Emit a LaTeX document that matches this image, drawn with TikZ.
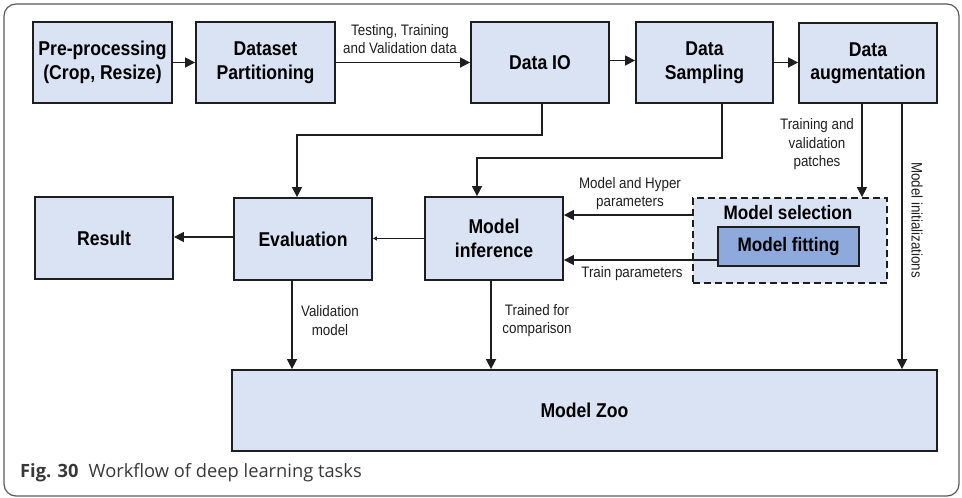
\documentclass[tikz,border=0pt]{standalone}
\usepackage{fontspec}
\setmainfont{Liberation Sans}[FakeStretch=0.88]
\newfontfamily\capfont{Open Sans}
\usetikzlibrary{arrows.meta}
\definecolor{boxfill}{RGB}{218,227,243}
\definecolor{fitfill}{RGB}{142,169,219}
\definecolor{edge}{RGB}{30,30,30}
\definecolor{framegray}{RGB}{90,90,90}
\begin{document}
\begin{tikzpicture}[x=1pt,y=-1pt,
  stagebox/.style={draw=edge, line width=1.8pt, fill=boxfill, align=center,
    font=\bfseries\fontsize{20}{23.5}\selectfont, inner sep=0pt},
  flow/.style={draw=edge, line width=1.5pt, -{Triangle[length=10pt,width=10pt]}},
  thinflow/.style={draw=edge, line width=1.5pt, -{Triangle[length=4pt,width=4pt]}},
  note/.style={font=\fontsize{15.2}{18.5}\selectfont, align=center, inner sep=0pt, text=black!88}]

\path[use as bounding box] (0,0) rectangle (962,498);
\draw[framegray, line width=1.2pt, rounded corners=12pt] (4,4) rectangle (959,496);

% top row of pipeline stages
\node[stagebox, minimum width=139pt, minimum height=81pt] (pre)  at (102.5,62.5) {Pre-processing\\(Crop, Resize)};
\node[stagebox, minimum width=139pt, minimum height=81pt] (part) at (265.5,62.5) {Dataset\\Partitioning};
\node[stagebox, minimum width=138pt, minimum height=81pt] (io)   at (540,62.5) {Data IO};
\node[stagebox, minimum width=137pt, minimum height=81pt] (samp) at (704.5,62.5) {Data\\Sampling};
\node[stagebox, minimum width=138pt, minimum height=80pt] (aug)  at (868,63) {Data\\augmentation};

% middle row
\node[stagebox, minimum width=138pt, minimum height=82pt] (result) at (104,238) {Result};
\node[stagebox, minimum width=138pt, minimum height=82pt] (eval)   at (303,239) {Evaluation};
\node[stagebox, minimum width=138pt, minimum height=83pt] (inf)    at (494,238.5) {Model\\inference};
\node[draw=edge, line width=1.8pt, dash pattern=on 7pt off 4pt, fill=boxfill,
      minimum width=194pt, minimum height=85pt, inner sep=0pt] (sel) at (790,240.5) {};
\node[font=\bfseries\fontsize{19.5}{22}\selectfont, inner sep=0pt] (seltitle) at (788,213) {Model selection};
\node[stagebox, fill=fitfill, font=\bfseries\fontsize{19.5}{22}\selectfont,
      minimum width=141pt, minimum height=39pt] (fit) at (788.5,246.5) {Model fitting};

% bottom store
\node[stagebox, minimum width=705pt, minimum height=81pt] (zoo) at (584.5,410.5) {Model Zoo};

% connectors along the top row
\draw[flow] (pre) -- (part);
\draw[flow] (part) -- (io);
\draw[flow] ([yshift=2pt]io.east) -- ([yshift=2pt]io.east -| samp.west);
\draw[flow] (samp.east) -- (samp.east -| aug.west);

% feeds from data IO and sampling
\draw[flow] ([xshift=2pt]io.south) -- ++(0,31) -| ([xshift=-6pt]eval.north);
\draw[flow] ([xshift=17.5pt]samp.south) -- ++(0,54) -| ([xshift=-17pt]inf.north);

% outputs of augmentation
\draw[flow] ([xshift=-6pt]aug.south) -- ([xshift=-6pt]aug.south |- sel.north);
\draw[flow] ([xshift=34pt]aug.south) -- ([xshift=34pt]aug.south |- zoo.north);

% model selection back to inference
\draw[flow] ([yshift=25.5pt]sel.west) -- ([yshift=25.5pt]sel.west -| inf.east);
\draw[flow] ([yshift=-13.5pt]fit.west) -- ([yshift=-13.5pt]fit.west -| inf.east);

% middle row leftwards
\draw[thinflow] (inf.west) -- (inf.west -| eval.east);
\draw[flow] ([yshift=2pt]eval.west) -- ([yshift=2pt]eval.west -| result.east);

% down to the model zoo
\draw[flow] ([xshift=-11pt]eval.south) -- ([xshift=-11pt]eval.south |- zoo.north);
\draw[flow] ([xshift=-3pt]inf.south) -- ([xshift=-3pt]inf.south |- zoo.north);

% connector labels
\node[note] (l1) at (400,39) {Testing, Training\\and Validation data};
\node[note] (l2) at (817,144.5) {Training and\\validation\\patches};
\node[note, rotate=-90] (l3) at (917,220) {Model initializations};
\node[note] (l4) at (630,193.5) {Model and Hyper\\parameters};
\node[note] (l5) at (632,273.5) {Train parameters};
\node[note] (l6) at (330,320.5) {Validation\\model};
\node[note] (l7) at (537,320.5) {Trained for\\comparison};

% caption
\node[anchor=west, inner sep=0pt, font=\capfont\fontsize{18.3}{21}\selectfont, text=black!78] (cap) at (20,473)
  {\textbf{Fig. 30}\hspace{0.55em}Workflow of deep learning tasks};
\end{tikzpicture}
\end{document}
